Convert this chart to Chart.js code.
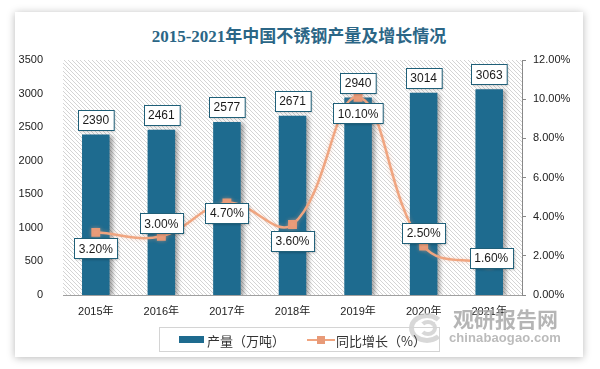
<!DOCTYPE html>
<html><head><meta charset="utf-8">
<script src="https://cdn.jsdelivr.net/npm/chart.js@4/dist/chart.umd.min.js"></script>
<style>
html,body{margin:0;padding:0;background:#fff;width:600px;height:369px;overflow:hidden;font-family:"Liberation Sans","Noto Sans CJK SC",sans-serif;}
#card{position:absolute;left:15px;top:12px;width:568px;height:345px;background:#fff;box-shadow:0 1px 8px rgba(0,0,0,0.28);}
#title{position:absolute;left:15px;width:568px;top:22px;text-align:center;font:bold 17px "Liberation Serif","Noto Sans CJK SC",serif;color:#2b6686;}
#wrap{position:absolute;left:0;top:0;width:600px;height:369px;}
#legend{position:absolute;left:159px;top:327px;width:279px;height:23px;border:1px solid #d4d4d4;font:13px "Noto Sans CJK SC",sans-serif;color:#333;}
.li{position:absolute;top:3px;white-space:nowrap;}
#wm1{position:absolute;left:453px;top:303px;font:bold 21px "Noto Sans CJK SC",sans-serif;color:#a9a9a9;opacity:0.85;}
#wm2{position:absolute;left:449px;top:330px;font:bold 13px "Liberation Sans",sans-serif;color:#b0b0b0;opacity:0.85;letter-spacing:0.1px;}
#logo{position:absolute;left:409px;top:313px;width:26px;height:20px;border:5px solid #cfcfcf;border-radius:50%;border-right-color:transparent;opacity:0.8;}
#logo2{position:absolute;left:419px;top:320px;width:10px;height:8px;border:4px solid #cfcfcf;border-radius:50%;border-left-color:transparent;opacity:0.8;}
</style></head>
<body>
<div id="card"></div>
<div id="title">2015-2021年中国不锈钢产量及增长情况</div>
<div id="wrap"><canvas id="c" width="600" height="369"></canvas></div>
<div id="logo"></div><div id="logo2"></div>
<div id="wm1">观研报告网</div>
<div id="wm2">chinabaogao.com</div>
<div id="legend">
  <span style="position:absolute;left:19px;top:8px;width:25px;height:7px;background:#1e6b8f;"></span>
  <span class="li" style="left:47px;">产量（万吨）</span>
  <span style="position:absolute;left:147px;top:11px;width:28px;height:2px;background:#f0a580;"></span>
  <span style="position:absolute;left:157px;top:8px;width:8px;height:8px;background:#e89a78;"></span>
  <span class="li" style="left:176px;">同比增长（%）</span>
</div>
<script>
const categories = ['2015年','2016年','2017年','2018年','2019年','2020年','2021年'];
const production = [2390, 2461, 2577, 2671, 2940, 3014, 3063];
const growth = [3.2, 3.0, 4.7, 3.6, 10.1, 2.5, 1.6];
const leftTicks = [0, 500, 1000, 1500, 2000, 2500, 3000, 3500];
const rightTicks = [0, 2, 4, 6, 8, 10, 12];

// label placement (styling only)
const growthLabelPlace = ['below','above','nudge','below','below','above','nudge2'];

function makeHatch(){
  const s = 4, c = document.createElement('canvas');
  c.width = s; c.height = s;
  const x = c.getContext('2d');
  x.fillStyle = '#ffffff'; x.fillRect(0,0,s,s);
  x.strokeStyle = '#cfcfcf'; x.lineWidth = 0.9;
  for (const k of [-s,0,s]) { x.beginPath(); x.moveTo(k,0); x.lineTo(k+s,s); x.stroke(); }
  return c;
}

const bgPlugin = {
  id:'bg',
  beforeDatasetsDraw(chart){
    const {ctx, chartArea:a} = chart;
    ctx.save();
    ctx.fillStyle = ctx.createPattern(makeHatch(),'repeat');
    ctx.fillRect(a.left, a.top, a.right-a.left, a.bottom-a.top);
    ctx.restore();
  },
  beforeDatasetDraw(chart, args){
    const ctx = chart.ctx;
    ctx.save();
    if (args.index === 0){
      ctx.shadowColor='rgba(0,0,0,0.35)'; ctx.shadowBlur=4; ctx.shadowOffsetX=3; ctx.shadowOffsetY=1;
    } else {
      ctx.shadowColor='rgba(240,165,128,0.45)'; ctx.shadowBlur=4;
    }
  },
  afterDatasetDraw(chart){ chart.ctx.restore(); }
};

function box(ctx, text, cx, cy){
  ctx.font = '12px "Liberation Sans", sans-serif';
  const w = ctx.measureText(text).width + 9, h = 20;
  const x = Math.round(cx - w/2)+0.5, y = Math.round(cy - h/2)+0.5;
  ctx.save();
  ctx.shadowColor='rgba(0,0,0,0.2)'; ctx.shadowBlur=2; ctx.shadowOffsetX=1; ctx.shadowOffsetY=1;
  ctx.fillStyle='#fff'; ctx.fillRect(x,y,w,h);
  ctx.restore();
  ctx.strokeStyle='#1f5f78'; ctx.lineWidth=1; ctx.strokeRect(x,y,w,h);
  ctx.fillStyle='#1a1a1a'; ctx.textAlign='center'; ctx.textBaseline='middle';
  ctx.fillText(text, cx, cy+1);
}

const labelPlugin = {
  id:'labels',
  afterDatasetsDraw(chart){
    const ctx = chart.ctx;
    const bm = chart.getDatasetMeta(0), lm = chart.getDatasetMeta(1);
    ctx.save();
    bm.data.forEach((el,i)=>{ box(ctx, String(production[i]), el.x, el.y - 15); });
    lm.data.forEach((el,i)=>{
      const p = growthLabelPlace[i];
      let dy = 0;
      if (p==='below') dy = 16; else if (p==='above') dy = -13; else if (p==='nudge') dy = 10; else dy = -6;
      box(ctx, growth[i].toFixed(2)+'%', el.x + (p==='nudge2'?2:0), el.y + dy);
    });
    ctx.restore();
  }
};

new Chart(document.getElementById('c'), {
  data:{
    labels: categories,
    datasets:[
      {type:'bar', label:'产量（万吨）', data: production, yAxisID:'y', backgroundColor:'#1e6b8f',
       borderWidth:0, barPercentage:0.42, categoryPercentage:1, order:2},
      {type:'line', label:'同比增长（%）', data: growth, yAxisID:'y1', borderColor:'#f0a580', borderWidth:2.5,
       tension:0.4, pointStyle:'rect', pointRadius:4.5, pointBackgroundColor:'#e89a78', pointBorderColor:'#e89a78', order:1}
    ]
  },
  options:{
    responsive:false, animation:false, devicePixelRatio:1,
    layout:{padding:{left:14, right:18, top:60, bottom:54}},
    plugins:{legend:{display:false}, title:{display:false}, tooltip:{enabled:false}},
    scales:{
      x:{grid:{display:false}, border:{display:true,color:'#a0a0a0',width:1},
         ticks:{color:'#222', font:{size:11, family:'"Liberation Sans","Noto Sans CJK SC",sans-serif'}, padding:2},
         afterFit(s){ s.height = 20; }},
      y:{position:'left', min:0, max:3500, grid:{display:false}, border:{display:false},
         afterBuildTicks(s){ s.ticks = leftTicks.map(v=>({value:v})); },
         ticks:{color:'#222', font:{size:11, family:'"Liberation Sans",sans-serif'}, padding:12, callback:v=>String(v)},
         afterFit(s){ s.width = 49; }},
      y1:{position:'right', min:0, max:12, grid:{drawOnChartArea:false, tickLength:4, color:'#888'}, border:{display:true,color:'#888'},
         afterBuildTicks(s){ s.ticks = rightTicks.map(v=>({value:v})); },
         ticks:{color:'#222', font:{size:11, family:'"Liberation Sans",sans-serif'}, padding:7, callback:v=>v.toFixed(2)+'%'},
         afterFit(s){ s.width = 60; }}
    }
  },
  plugins:[bgPlugin, labelPlugin]
});
</script>
</body></html>
